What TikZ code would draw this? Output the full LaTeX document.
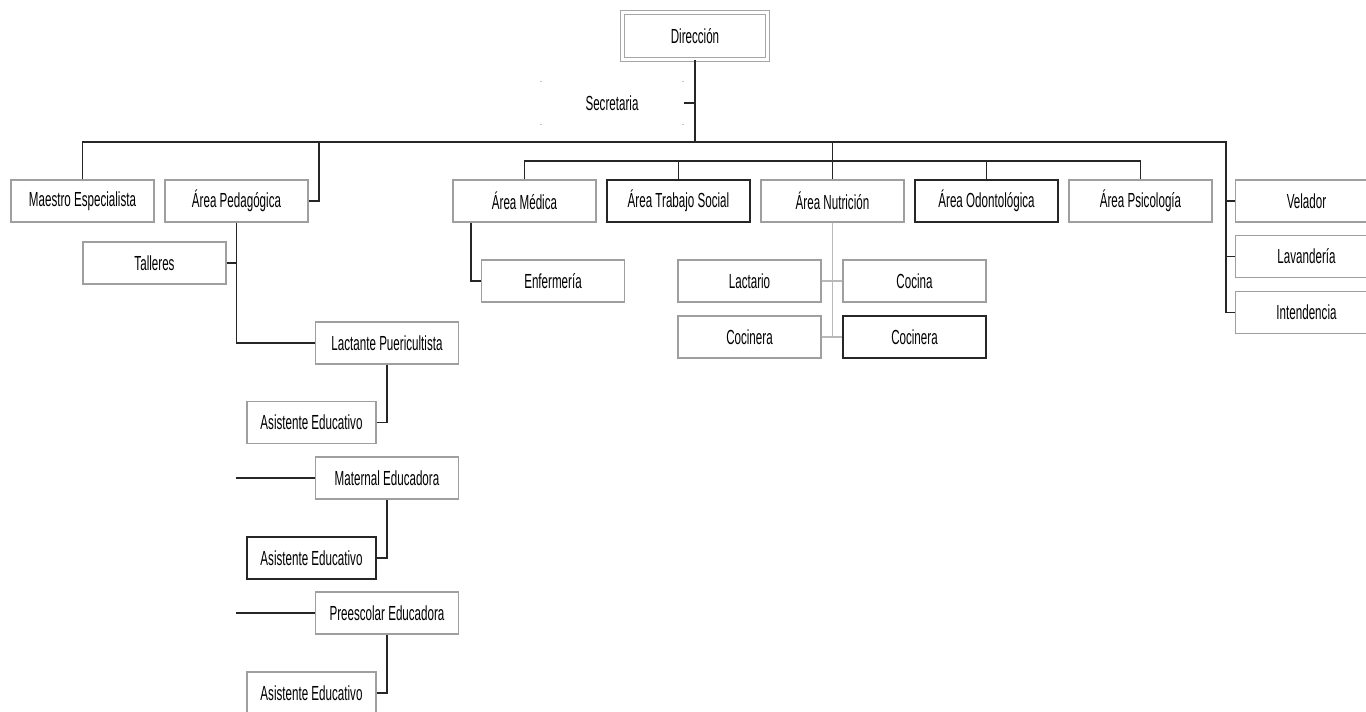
\documentclass[tikz,border=0pt]{standalone}
\usepackage{fontspec}
\setmainfont{Liberation Sans}[FakeStretch=0.57]

\begin{document}
\begin{tikzpicture}[
  x=0.02cm, y=-0.02cm,
  caja/.style={rectangle, draw=gray!75, line width=0.6pt, fill=white, inner sep=1pt,
    minimum width=2.86cm, minimum height=0.84cm, font=\fontsize{11.6}{13}\selectfont},
  cajaosc/.style={caja, draw=black!85},
  cajacorta/.style={caja, minimum width=2.58cm},
  linea/.style={line width=0.6pt, draw=black!85},
  lineagris/.style={line width=0.6pt, draw=gray!55},
  marca/.style={line width=0.4pt, draw=gray!45}
]
  \useasboundingbox (0,0) rectangle (1366,711);

  % Dirección y Secretaría
  \node[caja, draw=gray!70, double=white, double distance=1.3pt, minimum width=2.90cm, minimum height=0.94cm] (dir) at (695,36) {Dirección};
  \node[caja, draw=none, fill=none] (sec) at (612,103) {Secretaria};
  \foreach \a/\d in {north west/2, south west/2, north east/-2, south east/-2}
    \draw[marca] (sec.\a) -- ++(\d,0);

  % Primer nivel
  \node[caja] (maestro) at (82.5,201) {Maestro Especialista};
  \node[caja] (ped) at (236.5,201) {Área Pedagógica};
  \node[caja] (med) at (524.5,201) {Área Médica};
  \node[cajaosc] (ts) at (678.5,201) {Área Trabajo Social};
  \node[caja] (nut) at (832.5,201) {Área Nutrición};
  \node[cajaosc] (odo) at (986.5,201) {Área Odontológica};
  \node[caja] (psi) at (1140.5,201) {Área Psicología};
  \node[caja] (vel) at (1306.5,201) {Velador};
  \node[caja] (lav) at (1306.5,256.5) {Lavandería};
  \node[caja] (int) at (1306.5,312.5) {Intendencia};

  % Área Pedagógica
  \node[caja] (tall) at (154.5,263) {Talleres};
  \node[caja] (lact) at (387,343) {Lactante Puericultista};
  \node[cajacorta] (asis1) at (311.5,422.5) {Asistente Educativo};
  \node[caja] (mat) at (387,478) {Maternal Educadora};
  \node[cajacorta, draw=black!85] (asis2) at (311.5,558) {Asistente Educativo};
  \node[caja] (pre) at (387,613) {Preescolar Educadora};
  \node[cajacorta] (asis3) at (311.5,693) {Asistente Educativo};

  % Área Médica y Área Nutrición
  \node[caja] (enf) at (553,281) {Enfermería};
  \node[caja] (lacta) at (749.5,281) {Lactario};
  \node[caja] (cocina) at (914.5,281) {Cocina};
  \node[caja] (coc1) at (749.5,337) {Cocinera};
  \node[cajaosc] (coc2) at (914.5,337) {Cocinera};

  % Puntos de apoyo
  \coordinate (bus) at (0,142);
  \coordinate (bus2) at (0,161);
  \coordinate (der) at (1226,0);
  \coordinate (pedx) at (319,0);
  \coordinate (medx) at (471,0);
  \coordinate (m0) at (236,478);
  \coordinate (p0) at (236,613);

  % Líneas principales
  \draw[linea] (dir.south) -- (dir.south |- bus);
  \draw[linea] (sec.east) -- (sec.east -| dir.south);
  \draw[linea] (maestro.north) |- (der |- bus) -- (der |- int.west) -- (int.west);
  \draw[linea] (ped.east) -| (pedx |- bus);
  \draw[linea] (vel.west) -- (vel.west -| der);
  \draw[linea] (lav.west) -- (lav.west -| der);
  \draw[linea] (nut.north) -- (nut.north |- bus);
  \draw[linea] (med.north) |- (psi.north |- bus2) -- (psi.north);
  \foreach \n in {ts, odo}
    \draw[linea] (\n.north) -- (\n.north |- bus2);

  % Líneas de Área Pedagógica
  \draw[linea] (ped.south) |- (lact.west);
  \draw[linea] (tall.east) -- (tall.east -| ped.south);
  \draw[linea] (lact.south) |- (asis1.east);
  \draw[linea] (m0) -- (mat.west);
  \draw[linea] (mat.south) |- (asis2.east);
  \draw[linea] (p0) -- (pre.west);
  \draw[linea] (pre.south) |- (asis3.east);

  % Líneas de Área Médica y Área Nutrición
  \draw[linea] (med.south -| medx) |- (enf.west);
  \draw[lineagris] (nut.south) -- (nut.south |- coc1.east);
  \draw[lineagris] (lacta.east) -- (cocina.west);
  \draw[lineagris] (coc1.east) -- (coc2.west);
\end{tikzpicture}
\end{document}
